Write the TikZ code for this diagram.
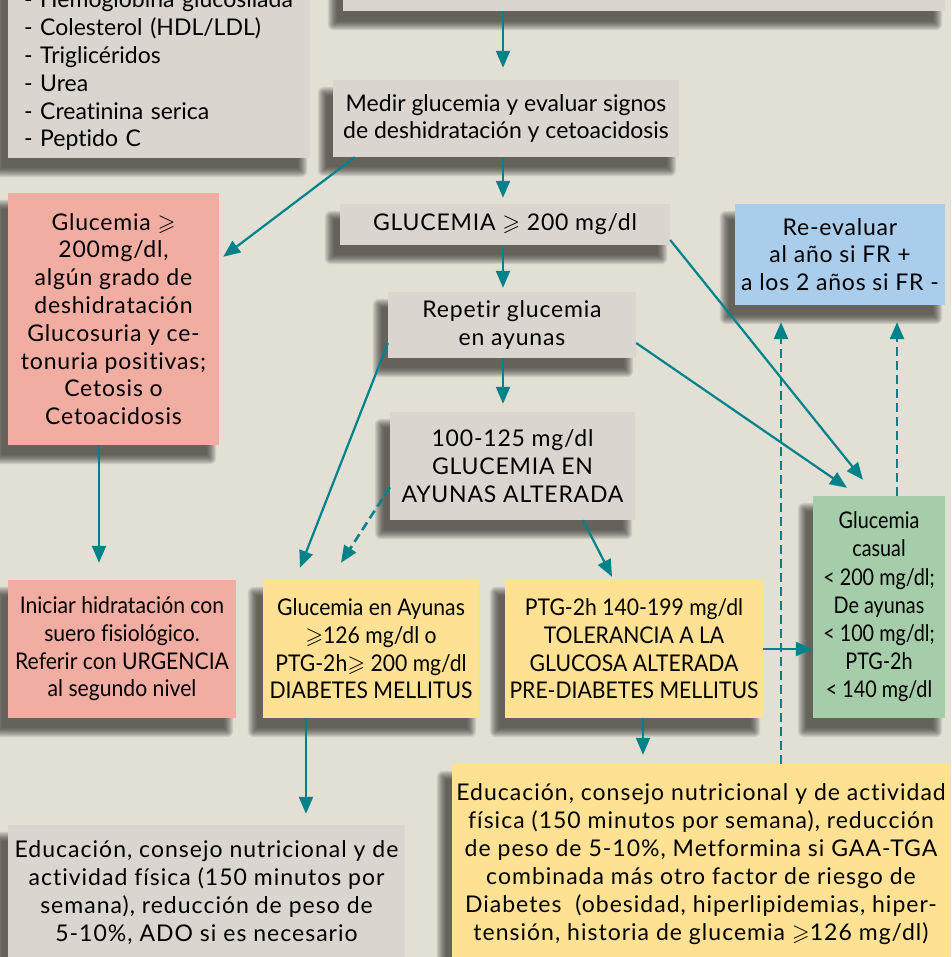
\documentclass[tikz,border=0pt]{standalone}
\usepackage{fontspec}
\usepackage{amssymb}
\defaultfontfeatures{Ligatures={NoCommon,NoRequired,NoContextual}}
\setmainfont{Lato}
\newfontfamily\trackfont[LetterSpace=3.5]{Lato}
\newfontfamily\widefont[LetterSpace=4.4]{Lato}
\newfontfamily\condfont[FakeStretch=0.92]{Lato}
\newfontfamily\condfontb[FakeStretch=0.86]{Lato}
\usetikzlibrary{arrows.meta,calc}
\pgfdeclarelayer{background}
\pgfsetlayers{background,main}
\definecolor{bgcol}{HTML}{E2E0D5}
\definecolor{graybox}{HTML}{DAD6CF}
\definecolor{pinkbox}{HTML}{F2ADA3}
\definecolor{yellowbox}{HTML}{FFE194}
\definecolor{greenbox}{HTML}{A6CDA9}
\definecolor{bluebox}{HTML}{ABCDEC}
\definecolor{tealc}{HTML}{00828B}
\definecolor{shadowcol}{HTML}{2E2D29}
\newcommand{\mainsz}{\trackfont\fontsize{23}{27.8}\selectfont}
\newcommand{\plainsz}{\normalfont\fontsize{23}{27.8}\selectfont}
\newcommand{\widesz}{\widefont\fontsize{23}{28}\selectfont}
\newcommand{\condsz}{\condfont\fontsize{23}{27.7}\selectfont}
\newcommand{\condszb}{\condfontb\fontsize{23}{28.2}\selectfont}
\newcommand{\softshadow}[1]{%
  \foreach \k in {1,...,10}{%
    \pgfmathsetmacro\ee{7-\k}%
    \pgfmathsetmacro\rc{max(\ee,0.1)}%
    \pgfmathsetmacro\ax{-9-\ee}\pgfmathsetmacro\ay{-13-\ee}%
    \pgfmathsetmacro\bx{-9+\ee}\pgfmathsetmacro\by{-13+\ee}%
    \fill[shadowcol,opacity=0.11,rounded corners=\rc pt]
      ([xshift=\ax pt,yshift=\ay pt]#1.south west) rectangle ([xshift=\bx pt,yshift=\by pt]#1.north east);
  }}
\tikzset{
  box/.style={inner sep=0pt, align=center, font=\mainsz},
  gbox/.style={box, fill=graybox},
  pbox/.style={box, fill=pinkbox},
  ybox/.style={box, fill=yellowbox},
  grbox/.style={box, fill=greenbox},
  bbox/.style={box, fill=bluebox},
  arr/.style={draw=tealc, line width=2.2pt, -{Triangle[width=14pt,length=17pt]}},
  darr/.style={arr, line width=2.6pt, dash pattern=on 9pt off 5pt},
}
\begin{document}
\begin{tikzpicture}[x=1pt,y=1pt]
\useasboundingbox (0,0) rectangle (951,-957);
\begin{pgfonlayer}{background}
\fill[bgcol] (0,0) rectangle (951,-957);
\end{pgfonlayer}
\coordinate (spine) at (503,0);
% boxes
\node[gbox, font=\plainsz, minimum width=302pt, minimum height=174pt, text width=270pt, inner xsep=16pt, align=left] (list) at (159,-71)
 {- Hemoglobina glucosilada\\- Colesterol (HDL/LDL)\\- Triglicéridos\\- Urea\\- Creatinina serica\\- Peptido C};
\node[gbox, minimum width=602pt, minimum height=60pt] (top) at (644,19) {};
\node[gbox, font=\plainsz, minimum width=346pt, minimum height=77pt] (medir) at (506,-118.5)
 {Medir glucemia y evaluar signos\\de deshidratación y cetoacidosis};
\node[gbox, minimum width=330pt, minimum height=41pt] (gluc) at (505,-224.5)
 {GLUCEMIA $\geqslant$ 200 mg/dl};
\node[gbox, minimum width=248pt, minimum height=66pt] (rep) at (512,-325)
 {Repetir glucemia\\en ayunas};
\node[gbox, minimum width=245pt, minimum height=108pt] (ayu) at (512.5,-466)
 {100-125 mg/dl\\GLUCEMIA EN\\AYUNAS ALTERADA};
\node[pbox, minimum width=211pt, minimum height=252pt] (pink1) at (113.5,-319)
 {Glucemia $\geqslant$\\200mg/dl,\\algún grado de\\deshidratación\\Glucosuria y ce-\\tonuria positivas;\\Cetosis o\\Cetoacidosis};
\node[pbox, font=\condsz, minimum width=228pt, minimum height=138pt] (pink2) at (122,-649)
 {Iniciar hidratación con\\suero fisiológico.\\Referir con URGENCIA\\al segundo nivel};
\node[ybox, font=\condsz, minimum width=216pt, minimum height=138pt] (dm) at (371,-649)
 {Glucemia en Ayunas\\$\geqslant$126 mg/dl o\\PTG-2h$\geqslant$ 200 mg/dl\\DIABETES MELLITUS};
\node[ybox, font=\condsz, minimum width=258pt, minimum height=138pt] (ptg) at (634,-649)
 {PTG-2h 140-199 mg/dl\\TOLERANCIA A LA\\GLUCOSA ALTERADA\\PRE-DIABETES MELLITUS};
\node[grbox, font=\condszb, minimum width=132pt, minimum height=222pt] (green) at (879,-607)
 {Glucemia\\casual\\< 200 mg/dl;\\De ayunas\\< 100 mg/dl;\\PTG-2h\\< 140 mg/dl};
\node[bbox, minimum width=210pt, minimum height=101pt] (blue) at (840,-254.5)
 {Re-evaluar\\al año si FR +\\a los 2 años si FR -};
\node[gbox, font=\widesz, minimum width=397pt, minimum height=136pt] (bl) at (206.5,-893)
 {Educación, consejo nutricional y de\\actividad física (150 minutos por\\semana), reducción de peso de\\5-10\%, ADO si es necesario};
\node[ybox, font=\widesz, minimum width=498pt, minimum height=200pt] (br) at (701,-864)
 {Educación, consejo nutricional y de actividad\\física (150 minutos por semana), reducción\\de peso de 5-10\%, Metformina si GAA-TGA\\combinada más otro factor de riesgo de\\Diabetes\ \ (obesidad, hiperlipidemias, hiper-\\tensión, historia de glucemia $\geqslant$126 mg/dl)};
% shadows
\begin{pgfonlayer}{background}
\foreach \n in {list,top,medir,gluc,rep,ayu,pink1,pink2,dm,ptg,green,blue,bl,br}{\softshadow{\n}}
\end{pgfonlayer}
% connectors
\draw[arr, shorten >=12pt] (spine |- top.south) -- (spine |- medir.north);
\draw[arr, shorten >=6pt] (spine |- medir.south) -- (spine |- gluc.north);
\draw[arr, shorten >=4pt, shorten <=3pt] (spine |- gluc.south) -- (spine |- rep.north);
\draw[arr, shorten >=8pt] (spine |- rep.south) -- (spine |- ayu.north);
\draw[arr] ([xshift=22pt]medir.south west) -- ([xshift=4pt,yshift=-64pt]pink1.north east);
\draw[arr, shorten >=17pt] ([xshift=-14.5pt]pink1.south) -- ([xshift=-23pt]pink2.north);
\draw[arr] ([yshift=15pt]rep.south west) -- ([xshift=-71pt,yshift=12pt]dm.north);
\draw[darr] ([yshift=33pt]ayu.south west) -- ([xshift=-30pt,yshift=17pt]dm.north);
\draw[arr] ([xshift=70.5pt]ayu.south) -- ([xshift=-22pt,yshift=3pt]ptg.north);
\draw[arr] (ptg.east) -- (ptg.east -| green.west);
\draw[arr] ([yshift=-15.5pt]gluc.east) -- ([xshift=-16pt,yshift=16pt]green.north);
\draw[arr] ([yshift=-18pt]rep.east) -- ([xshift=-32pt,yshift=8pt]green.north);
\draw[darr, shorten >=17pt] ([xshift=80pt]br.north) -- ([xshift=-59pt]blue.south);
\draw[darr, shorten >=17pt] ([xshift=18pt]green.north) -- ([xshift=57pt]blue.south);
\draw[arr, shorten >=11pt] ([xshift=-65pt]dm.south) -- ([xshift=99.5pt]bl.north);
\draw[arr, shorten >=9pt] ([xshift=9pt]ptg.south) -- ([xshift=-58pt]br.north);
\end{tikzpicture}
\end{document}
